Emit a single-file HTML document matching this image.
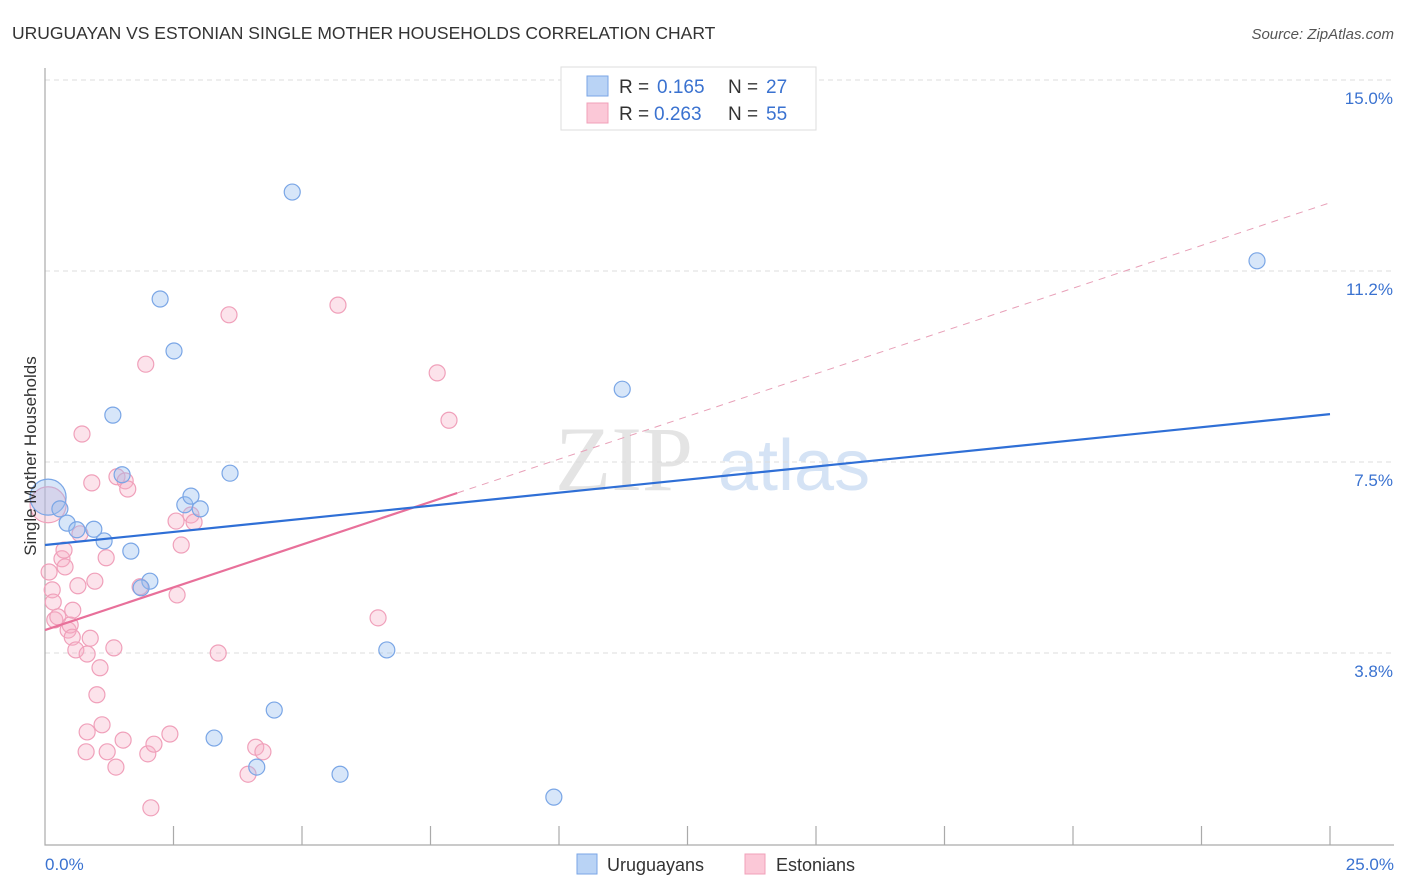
<!DOCTYPE html>
<html><head><meta charset="utf-8">
<style>
body{margin:0;background:#fff;font-family:"Liberation Sans",sans-serif;}
svg{display:block}
</style></head>
<body>
<svg id="chart" width="1406" height="892" xmlns="http://www.w3.org/2000/svg">
<text x="12" y="39" font-size="17.5" fill="#333">URUGUAYAN VS ESTONIAN SINGLE MOTHER HOUSEHOLDS CORRELATION CHART</text>
<text x="1394" y="39" font-size="15" fill="#555" font-style="italic" text-anchor="end">Source: ZipAtlas.com</text>
<g>
<text x="555" y="490" font-size="92" fill="#e4e4e4" font-family="Liberation Serif,serif">ZIP</text>
<text x="718" y="490" font-size="72" fill="#d5e3f5">atlas</text>
</g>
<g id="grid"></g>
<g id="axes"></g>
<g id="marks"></g>
<g id="trends"></g>
<text x="36" y="456" font-size="17" fill="#333" text-anchor="middle" transform="rotate(-90 36 456)">Single Mother Households</text>
<text x="45" y="870" font-size="17" fill="#3a72d0">0.0%</text>
<text x="1394" y="870" font-size="17" fill="#3a72d0" text-anchor="end">25.0%</text>
<g>
<rect x="561" y="67" width="255" height="63" fill="#fff" stroke="#ddd"/>
<rect x="587" y="76" width="21" height="20" fill="#b9d3f5" stroke="#7aa6e6"/>
<rect x="587" y="103" width="21" height="20" fill="#fbc8d7" stroke="#f0a0ba"/>
<text x="619" y="93" font-size="19" fill="#333">R = <tspan fill="#3a72d0" x="657">0.165</tspan><tspan x="728">N = </tspan><tspan fill="#3a72d0" x="766">27</tspan></text>
<text x="619" y="120" font-size="19" fill="#333">R = <tspan fill="#3a72d0" x="654">0.263</tspan><tspan x="728">N = </tspan><tspan fill="#3a72d0" x="766">55</tspan></text>
</g>
<g>
<rect x="577" y="854" width="20" height="20" fill="#b9d3f5" stroke="#7aa6e6"/>
<text x="607" y="871" font-size="18" fill="#333">Uruguayans</text>
<rect x="745" y="854" width="20" height="20" fill="#fbc8d7" stroke="#f0a0ba"/>
<text x="776" y="871" font-size="18" fill="#333">Estonians</text>
</g>
</svg>
<script>
const yTicks=[3.75,7.5,11.25,15];
const yTickLabels=["3.8%","7.5%","11.2%","15.0%"];
const xTicks=[0,2.5,5,7.5,10,12.5,15,17.5,20,22.5,25];
const uruX=[0.06,0.29,0.43,0.62,0.95,1.15,1.67,2.04,1.87,1.32,1.50,2.24,2.51,2.72,2.84,3.02,3.60,4.81,3.29,4.46,4.12,5.74,6.65,9.90,11.23,23.58];
const uruY=[6.81,6.58,6.30,6.17,6.18,5.95,5.75,5.16,5.03,8.42,7.25,10.70,9.68,6.66,6.83,6.58,7.28,12.80,2.08,2.63,1.51,1.37,3.81,0.92,8.93,11.45];
const estX=[0.06,0.08,0.14,0.16,0.19,0.25,0.33,0.37,0.39,0.45,0.49,0.53,0.54,0.60,0.64,0.68,0.72,0.82,0.82,0.80,0.88,0.91,0.97,1.01,1.07,1.11,1.19,1.21,1.34,1.38,1.40,1.52,1.56,1.61,1.85,1.96,2.00,2.06,2.12,2.43,2.55,2.57,2.65,2.84,2.90,3.37,3.58,3.95,4.10,4.24,5.70,6.48,7.63,7.86];
const estY=[6.66,5.34,4.99,4.75,4.40,4.46,5.60,5.77,5.44,4.20,4.30,4.06,4.59,3.81,5.07,6.09,8.05,3.73,2.20,1.81,4.04,7.09,5.16,2.93,3.46,2.34,5.62,1.81,3.85,1.51,7.21,2.04,7.13,6.97,5.05,9.42,1.77,0.71,1.96,2.16,6.34,4.89,5.87,6.46,6.32,3.75,10.39,1.37,1.90,1.81,10.58,4.44,9.25,8.32];
const uruTrend=[5.87,8.44];
const estTrend=[4.20,12.59];
const estSolidEnd=8.02;

const NS="http://www.w3.org/2000/svg";
const X0=45,X1=1330,Y0=844,Ytop=80;
const sx=v=>X0+(v/25)*(X1-X0);
const sy=v=>Y0-(v/15)*(Y0-Ytop);
function mk(tag,attrs,parent){const e=document.createElementNS(NS,tag);for(const k in attrs)e.setAttribute(k,attrs[k]);parent.appendChild(e);return e;}
const grid=document.getElementById('grid'),axes=document.getElementById('axes'),marks=document.getElementById('marks'),trends=document.getElementById('trends');
yTicks.forEach((t,i)=>{
 const l=mk('line',{x1:X0,x2:1394,y1:sy(t),y2:sy(t),stroke:'#ddd','stroke-dasharray':'5,4'},grid);
 
 
 const tx=mk('text',{x:1393,y:sy(t)+24,'font-size':17,fill:'#3a72d0','text-anchor':'end'},axes);
 tx.textContent=yTickLabels[i];
 
 
});
const ax=mk('path',{d:`M${X0} 68 V${Y0+1} H1394`,fill:'none',stroke:'#aaa','stroke-width':1.2},axes);


xTicks.forEach(t=>{if(t===0)return;
 const l=mk('line',{x1:sx(t),x2:sx(t),y1:826,y2:Y0+1,stroke:'#aaa','stroke-width':1.2},axes);
 
 
});
function pts(xs,ys,fill,stroke,name){
 xs.forEach((x,i)=>{
  const r=(i===0&&x<0.1)?18:8;
  const c=mk('circle',{cx:sx(x),cy:sy(ys[i]),r:r,fill:fill,stroke:stroke,'stroke-width':1.2},marks);
  
  
 });
}
pts(estX,estY,'rgba(246,175,199,0.35)','#f0a0ba','point-estonian');
pts(uruX,uruY,'rgba(150,188,238,0.38)','#7aa6e6','point-uruguayan');
const estAt=x=>estTrend[0]+(estTrend[1]-estTrend[0])*x/25;
let l=mk('line',{x1:sx(0),y1:sy(estAt(0)),x2:sx(estSolidEnd),y2:sy(estAt(estSolidEnd)),stroke:'#e8709a','stroke-width':2.2},trends);


l=mk('line',{x1:sx(estSolidEnd),y1:sy(estAt(estSolidEnd)),x2:sx(25),y2:sy(estTrend[1]),stroke:'#e8a0b8','stroke-width':1,'stroke-dasharray':'7,6'},trends);


l=mk('line',{x1:sx(0),y1:sy(uruTrend[0]),x2:sx(25),y2:sy(uruTrend[1]),stroke:'#2f6fd6','stroke-width':2.2},trends);


</script>
</body></html>
